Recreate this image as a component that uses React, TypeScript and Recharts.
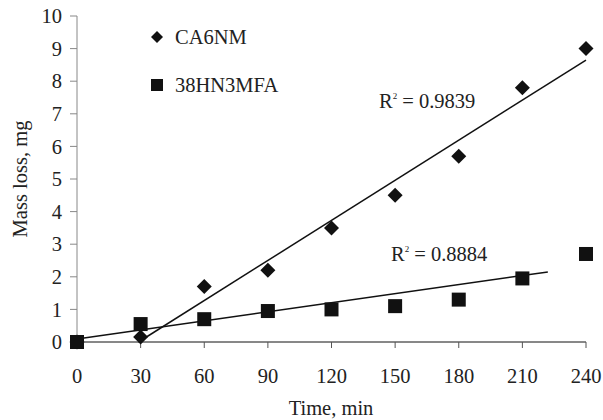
import React from "react";
import { ComposedChart, XAxis, YAxis, Scatter, Line } from "recharts";

const times = [0, 30, 60, 90, 120, 150, 180, 210, 240];
const ca6nm = [0, 0.15, 1.7, 2.2, 3.5, 4.5, 5.7, 7.8, 9.0];
const hn3mfa = [0, 0.55, 0.7, 0.95, 1.0, 1.1, 1.3, 1.95, 2.7];
const trendCaT = [29, 240];
const trendCaV = [0, 8.65];
const trendHnT = [0, 222];
const trendHnV = [0.09, 2.15];
const xTicks = [0, 30, 60, 90, 120, 150, 180, 210, 240];
const yTicks = [0, 1, 2, 3, 4, 5, 6, 7, 8, 9, 10];
const seriesNames = ["CA6NM", "38HN3MFA"];
const r2Labels = ["0.9839", "0.8884"];

const dataCa = times.map((t, i) => ({ t, v: ca6nm[i] }));
const dataHn = times.map((t, i) => ({ t, v: hn3mfa[i] }));
const trendCa = trendCaT.map((t, i) => ({ t, v: trendCaV[i] }));
const trendHn = trendHnT.map((t, i) => ({ t, v: trendHnV[i] }));

const FONT = "'Liberation Serif', 'Times New Roman', serif";
const FS = 20.5;

const Diamond = (props: any) => {
  const { cx, cy } = props;
  const r = 7.5;
  return (
    <polygon
      points={`${cx},${cy - r} ${cx + r},${cy} ${cx},${cy + r} ${cx - r},${cy}`}
      fill="#111"
    />
  );
};

const Square = (props: any) => {
  const { cx, cy } = props;
  const s = 14;
  return <rect x={cx - s / 2} y={cy - s / 2} width={s} height={s} fill="#111" />;
};

const R2 = ({ x, y, value }: { x: number; y: number; value: string }) => (
  <text x={x} y={y} fontFamily={FONT} fontSize={FS} fill="#222">
    R
    <tspan fontSize={9} dy={-9}>2</tspan>
    <tspan dy={9}>{` = ${value}`}</tspan>
  </text>
);

export default function App() {
  return (
    <div style={{ position: "absolute", left: 0, top: 0, width: 603, height: 420, background: "#fff" }}>
      <ComposedChart
        width={603}
        height={420}
        margin={{ top: 16, right: 17, bottom: 0, left: 0 }}
      >
        <XAxis
          dataKey="t"
          type="number"
          domain={[0, 240]}
          ticks={xTicks}
          height={78}
          tickSize={6}
          tickMargin={20}
          stroke="#111"
          tick={{ fill: "#222", fontSize: FS, fontFamily: FONT }}
          tickLine={{ stroke: "#555" }}
        />
        <YAxis
          dataKey="v"
          type="number"
          domain={[0, 10]}
          ticks={yTicks}
          width={77}
          tickSize={7}
          tickMargin={8}
          stroke="#888"
          tick={{ fill: "#222", fontSize: FS, fontFamily: FONT }}
        />
        <Line
          data={trendCa}
          dataKey="v"
          stroke="#111"
          strokeWidth={1.5}
          dot={false}
          isAnimationActive={false}
        />
        <Line
          data={trendHn}
          dataKey="v"
          stroke="#111"
          strokeWidth={1.5}
          dot={false}
          isAnimationActive={false}
        />
        <Scatter data={dataCa} dataKey="v" shape={Diamond} isAnimationActive={false} />
        <Scatter data={dataHn} dataKey="v" shape={Square} isAnimationActive={false} />
      </ComposedChart>
      <svg
        width={603}
        height={420}
        style={{ position: "absolute", left: 0, top: 0, pointerEvents: "none" }}
      >
        <polygon points="157,31 163,37 157,43 151,37" fill="#111" />
        <text x={175} y={44} fontFamily={FONT} fontSize={FS} fill="#222">{seriesNames[0]}</text>
        <rect x={151} y={79} width={12} height={12} fill="#111" />
        <text x={175} y={92} fontFamily={FONT} fontSize={FS} fill="#222">{seriesNames[1]}</text>
        <R2 x={379} y={108} value={r2Labels[0]} />
        <R2 x={391} y={261} value={r2Labels[1]} />
        <text x={331} y={415} textAnchor="middle" fontFamily={FONT} fontSize={FS} fill="#222">Time, min</text>
        <text
          x={27}
          y={179}
          textAnchor="middle"
          fontFamily={FONT}
          fontSize={FS}
          fill="#222"
          transform="rotate(-90 27 179)"
        >
          Mass loss, mg
        </text>
      </svg>
    </div>
  );
}
